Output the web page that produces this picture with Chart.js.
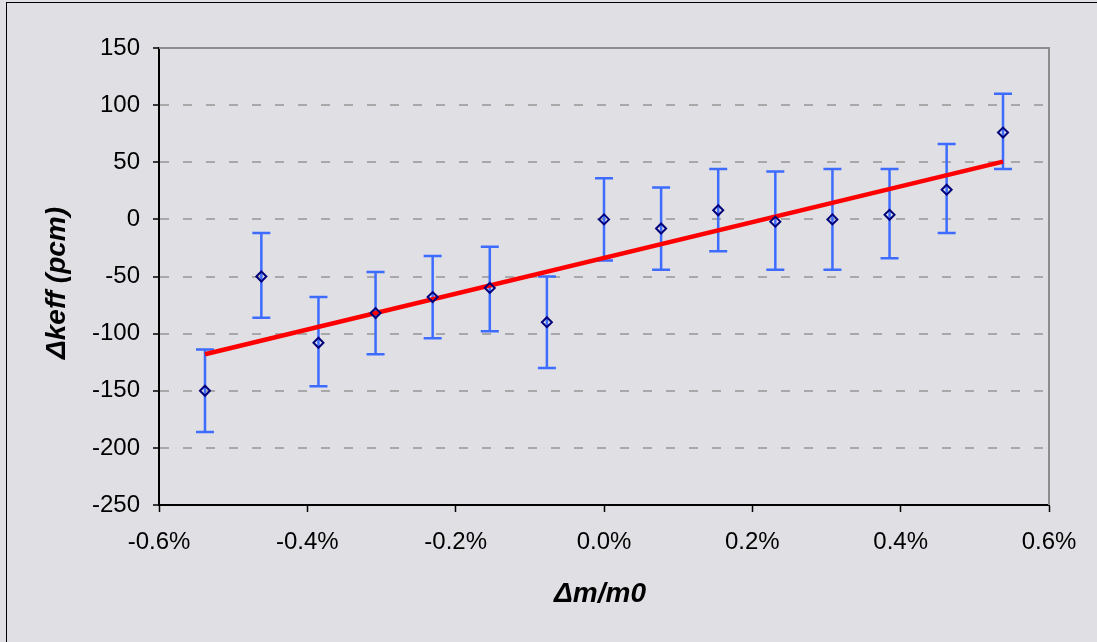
<!DOCTYPE html>
<html>
<head>
<meta charset="utf-8">
<script src="https://cdn.jsdelivr.net/npm/chart.js@4.4.1/dist/chart.umd.min.js"></script>
<style>
html,body{margin:0;padding:0;background:#dfdfe4;}
#wrap{width:1097px;height:642px;position:relative;}
canvas{display:block;}
</style>
</head>
<body>
<div id="wrap"><canvas id="c" width="1097" height="642"></canvas></div>
<script>
// ---- data ----
const massChange = [-0.538, -0.462, -0.385, -0.308, -0.231, -0.154, -0.077, 0.0, 0.077, 0.154, 0.231, 0.308, 0.385, 0.462, 0.538]; // Δm/m0 in %
const deltaKeff  = [-150, -50, -108, -82, -68, -60, -90, 0, -8, 8, -2, 0, 4, 26, 76]; // pcm
const errorHigh  = [-114, -12, -68, -46, -32, -24, -50, 36, 28, 44, 42, 44, 44, 66, 110];
const errorLow   = [-186, -86, -146, -118, -104, -98, -130, -36, -44, -28, -44, -44, -34, -12, 44];
const fitX = [-0.538, 0.538];
const fitY = [-118, 50.5];
const xTickValues = [-0.6, -0.4, -0.2, 0.0, 0.2, 0.4, 0.6];
const yTickValues = [-250, -200, -150, -100, -50, 0, 50, 100, 150];
const xTitle = 'Δm/m0';
const yTitle = 'Δkeff (pcm)';

const FONT = '"Liberation Sans", Arial, Helvetica, sans-serif';
const BG = '#dfdfe4';

const bgPlugin = {
  id: 'bg',
  beforeDraw(chart) {
    const ctx = chart.ctx;
    ctx.save();
    ctx.fillStyle = BG;
    ctx.fillRect(0, 0, chart.width, chart.height);
    ctx.strokeStyle = '#000';
    ctx.lineWidth = 1;
    ctx.strokeRect(6.5, 2.5, chart.width + 50, chart.height + 50);
    ctx.restore();
  }
};

const framePlugin = {
  id: 'frame',
  beforeDatasetsDraw(chart) {
    const ctx = chart.ctx, a = chart.chartArea;
    ctx.save();
    ctx.strokeStyle = '#8c8c8c';
    ctx.lineWidth = 2;
    ctx.beginPath();
    ctx.moveTo(a.left, a.top);
    ctx.lineTo(a.right, a.top);
    ctx.lineTo(a.right, a.bottom);
    ctx.stroke();
    ctx.restore();
  }
};

const errorBarPlugin = {
  id: 'errbars',
  beforeDatasetsDraw(chart) {
    const ctx = chart.ctx, xs = chart.scales.x, ys = chart.scales.y;
    ctx.save();
    ctx.strokeStyle = '#3d6cff';
    ctx.lineWidth = 2.5;
    for (let i = 0; i < massChange.length; i++) {
      const x = xs.getPixelForValue(massChange[i]);
      const yh = ys.getPixelForValue(errorHigh[i]);
      const yl = ys.getPixelForValue(errorLow[i]);
      ctx.beginPath();
      ctx.moveTo(x, yh); ctx.lineTo(x, yl);
      ctx.moveTo(x - 9, yh); ctx.lineTo(x + 9, yh);
      ctx.moveTo(x - 9, yl); ctx.lineTo(x + 9, yl);
      ctx.stroke();
    }
    ctx.restore();
  }
};

const titlePlugin = {
  id: 'titles',
  afterDraw(chart) {
    const ctx = chart.ctx;
    ctx.save();
    ctx.fillStyle = '#000';
    ctx.font = 'italic bold 28px ' + FONT;
    ctx.textAlign = 'center';
    ctx.textBaseline = 'middle';
    ctx.fillText(xTitle, 600, 594);
    ctx.translate(57, 283);
    ctx.rotate(-Math.PI / 2);
    ctx.fillText(yTitle, 0, 0);
    ctx.restore();
  }
};

new Chart(document.getElementById('c'), {
  type: 'scatter',
  data: {
    datasets: [
      {
        label: 'data',
        data: massChange.map((x, i) => ({x: x, y: deltaKeff[i]})),
        pointStyle: 'rectRot',
        pointRadius: 5,
        pointBorderWidth: 2,
        pointBorderColor: '#00007a',
        pointBackgroundColor: 'rgba(0,0,0,0)',
        showLine: false,
        order: 0
      },
      {
        label: 'fit',
        data: fitX.map((x, i) => ({x: x, y: fitY[i]})),
        showLine: true,
        borderColor: '#ff0000',
        borderWidth: 4.5,
        pointRadius: 0,
        order: 1
      }
    ]
  },
  options: {
    responsive: false,
    animation: false,
    devicePixelRatio: 1,
    layout: { padding: { left: 0, top: 48, right: 48, bottom: 0 } },
    plugins: { legend: { display: false }, tooltip: { enabled: false } },
    scales: {
      x: {
        type: 'linear',
        min: -0.6, max: 0.6,
        afterBuildTicks: s => { s.ticks = xTickValues.map(v => ({value: v})); },
        afterFit: s => { s.height = 137; },
        ticks: {
          color: '#000',
          font: { family: FONT, size: 24 },
          padding: 16,
          maxRotation: 0,
          callback: v => (Math.abs(v) < 1e-9 ? 0 : v).toFixed(1) + '%'
        },
        grid: { drawOnChartArea: false, drawTicks: true, tickLength: 7, tickColor: '#000', tickWidth: 1.5 },
        border: { display: true, color: '#000', width: 2 }
      },
      y: {
        type: 'linear',
        min: -250, max: 150,
        afterBuildTicks: s => { s.ticks = yTickValues.map(v => ({value: v})); },
        afterFit: s => { s.width = 159; },
        ticks: {
          color: '#000',
          font: { family: FONT, size: 24 },
          padding: 13
        },
        grid: {
          drawOnChartArea: true,
          drawTicks: true,
          tickLength: 6,
          tickColor: '#000',
          tickWidth: 1.5,
          tickBorderDash: [],
          lineWidth: 2,
          color: c => (c.tick && (c.tick.value === 150 || c.tick.value === -250)) ? 'rgba(0,0,0,0)' : '#a8a8a8'
        },
        border: { display: true, color: '#000', width: 2, dash: [9, 14] }
      }
    }
  },
  plugins: [bgPlugin, framePlugin, errorBarPlugin, titlePlugin]
});
</script>
</body>
</html>
